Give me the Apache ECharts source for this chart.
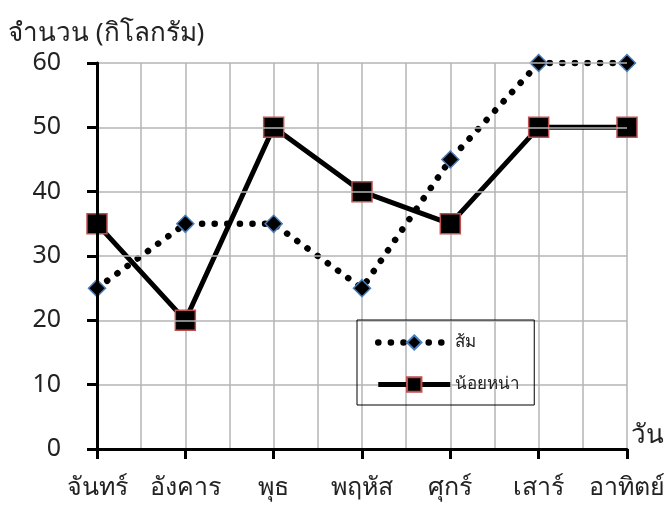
<!DOCTYPE html>
<html><head><meta charset="utf-8">
<script src="https://cdn.jsdelivr.net/npm/echarts@6/dist/echarts.min.js"></script>
<style>html,body{margin:0;padding:0;background:#fff}#c{width:670px;height:518px}</style>
</head><body><div id="c"></div>
<script>
const categories = ['จันทร์','อังคาร','พุธ','พฤหัส','ศุกร์','เสาร์','อาทิตย์'];
const orange = [25, 35, 35, 25, 45, 60, 60];
const custardApple = [35, 20, 50, 40, 35, 50, 50];
const seriesNames = ['ส้ม','น้อยหน่า'];
const yTitle = 'จำนวน (กิโลกรัม)';
const xTitle = 'วัน';
const halfSteps = [];
for (let i = 0; i < categories.length * 2 - 1; i++) halfSteps.push(String(i));

const FONT = '"Noto Sans", "DejaVu Sans", sans-serif';
const dotted = { color: '#000', width: 6.5, type: [0.1, 12.5], cap: 'round' };
const solid = { color: '#000', width: 5 };
const chart = echarts.init(document.getElementById('c'));
chart.setOption({
  animation: false,
  textStyle: { fontFamily: FONT },
  grid: { left: 97, right: 43, top: 63, bottom: 69, containLabel: false },
  xAxis: [{
    type: 'category', data: categories, boundaryGap: false,
    axisLine: { lineStyle: { color: '#000', width: 3 } },
    axisTick: { show: true, length: 10, inside: false, interval: 0, lineStyle: { color: '#000', width: 3 } },
    axisLabel: { color: '#222', fontSize: 25, margin: 26, interval: 0, hideOverlap: false, fontFamily: FONT },
    splitLine: { show: false },
    name: xTitle, nameLocation: 'end', nameGap: 0,
    nameTextStyle: { color: '#222', fontSize: 26, align: 'left', verticalAlign: 'bottom', padding: [0, 0, 0, 4], fontFamily: FONT },
    z: 5
  }, {
    type: 'category', data: halfSteps, boundaryGap: false, position: 'bottom',
    axisLine: { show: false }, axisTick: { show: false }, axisLabel: { show: false },
    splitLine: { show: true, interval: 0, lineStyle: { color: '#b4b4b4', width: 1.5 } }
  }],
  yAxis: {
    type: 'value', min: 0, max: 60, interval: 10,
    axisLine: { show: true, lineStyle: { color: '#000', width: 3 } },
    axisTick: { show: true, length: 10, lineStyle: { color: '#000', width: 3 } },
    axisLabel: { color: '#222', fontSize: 25, margin: 36, fontFamily: FONT },
    splitLine: { show: true, lineStyle: { color: '#b4b4b4', width: 1.5 } },
    name: yTitle, nameLocation: 'end', nameGap: 16,
    nameTextStyle: { color: '#222', fontSize: 26, align: 'left', padding: [0, 0, 0, -89], fontFamily: FONT },
    z: 5
  },
  legend: {
    orient: 'vertical', left: 357, top: 320, z: 10,
    padding: [14, 14, 12, 18], itemGap: 25,
    borderColor: '#000', borderWidth: 1,
    itemWidth: 72, itemHeight: 18,
    textStyle: { color: '#222', fontSize: 17, fontFamily: FONT },
    data: [
      { name: seriesNames[0], lineStyle: dotted },
      { name: seriesNames[1], lineStyle: solid }
    ]
  },
  series: [{
    name: seriesNames[0], type: 'line', data: orange,
    symbol: 'diamond', symbolSize: 17,
    itemStyle: { color: '#000', borderColor: '#4a7ebb', borderWidth: 1.5 },
    lineStyle: dotted,
    z: 3
  }, {
    name: seriesNames[1], type: 'line', data: custardApple,
    symbol: 'rect', symbolSize: 20,
    itemStyle: { color: '#000', borderColor: '#c0504d', borderWidth: 1.5 },
    lineStyle: solid,
    z: 4
  }]
});
</script></body></html>
